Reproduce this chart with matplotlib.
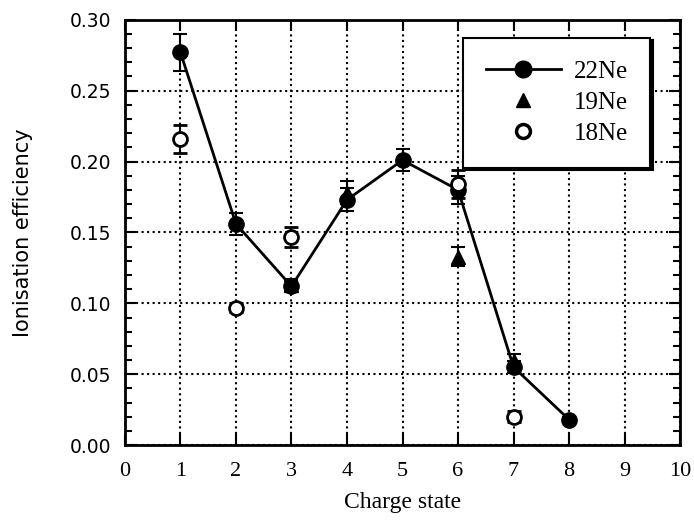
import matplotlib.pyplot as plt
from matplotlib.lines import Line2D
from matplotlib.ticker import MultipleLocator

# 22Ne (joined by line)
q22 = [1, 2, 3, 4, 5, 6, 7, 8]
eff22 = [0.277, 0.156, 0.112, 0.173, 0.201, 0.180, 0.055, 0.018]
err22 = [0.013, 0.008, 0.004, 0.008, 0.008, 0.010, 0.004, 0.002]

# 19Ne
q19 = [3, 4, 6, 7]
eff19 = [0.113, 0.178, 0.133, 0.059]
err19 = [0.004, 0.008, 0.007, 0.005]

# 18Ne
q18 = [1, 2, 3, 6, 7]
eff18 = [0.216, 0.097, 0.147, 0.184, 0.020]
err18 = [0.010, 0.003, 0.007, 0.010, 0.004]

serif = 'Liberation Serif'

fig = plt.figure(figsize=(6.94, 5.2), dpi=100)
ax = fig.add_axes([0.180, 0.144, 0.800, 0.818])

ax.errorbar(q22, eff22, yerr=err22, fmt='-o', color='black', lw=2,
            ms=11, capsize=5, elinewidth=1.5, capthick=1.5, zorder=3)
ax.errorbar(q19, eff19, yerr=err19, fmt='^', color='black',
            ms=10, capsize=5, elinewidth=1.5, capthick=1.5, zorder=3)
ax.errorbar(q18, eff18, yerr=err18, fmt='o', color='black', mfc='white', mew=2,
            ms=10, capsize=5, elinewidth=1.5, capthick=1.5, zorder=4)

ax.set_xlim(0, 10)
ax.set_ylim(0, 0.30)
ax.xaxis.set_major_locator(MultipleLocator(1))
ax.yaxis.set_minor_locator(MultipleLocator(0.01))
ax.set_yticks([0, 0.05, 0.10, 0.15, 0.20, 0.25, 0.30])
ax.set_yticklabels(['0.00', '0.05', '0.10', '0.15', '0.20', '0.25', '0.30'])
ax.grid(True, which='major', linestyle=':', color='black', lw=1.5)
ax.tick_params(which='both', direction='in', top=True, right=True, width=1.5)
ax.tick_params(which='major', length=8)
ax.tick_params(which='minor', length=5)
ax.tick_params(axis='y', labelsize=13.5, pad=10)
ax.tick_params(axis='x', pad=12)
for lab in ax.get_xticklabels():
    lab.set_fontfamily(serif)
    lab.set_fontsize(16)
for s in ax.spines.values():
    s.set_linewidth(2)

ax.set_xlabel('Charge state', fontfamily=serif, fontsize=17, labelpad=8)
ax.set_ylabel('Ionisation efficiency', fontsize=15, labelpad=26)

handles = [
    Line2D([], [], color='black', lw=2, marker='o', ms=12),
    Line2D([], [], color='black', ls='none', marker='^', ms=10),
    Line2D([], [], color='black', ls='none', marker='o', mfc='white', mew=2.5, ms=10),
]
leg = ax.legend(handles, ['22Ne', '19Ne', '18Ne'], loc='upper right',
                bbox_to_anchor=(0.946, 0.958), fancybox=False,
                shadow={'color': 'black', 'alpha': 1}, framealpha=1,
                edgecolor='black', handlelength=3.0, handletextpad=0.5,
                labelspacing=0.35, borderpad=0.9, borderaxespad=0,
                prop={'family': serif, 'size': 18})
leg.get_frame().set_linewidth(1.5)

fig.savefig('out.png', dpi=100)
